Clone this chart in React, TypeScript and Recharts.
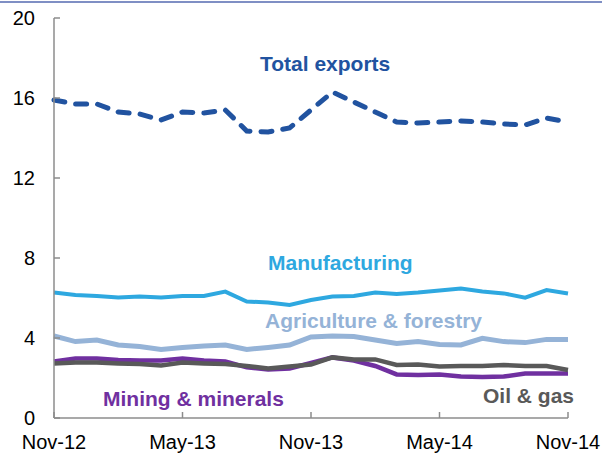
import { LineChart, Line, XAxis, YAxis } from "recharts";

const months = [
  "Nov-12", "Dec-12", "Jan-13", "Feb-13", "Mar-13", "Apr-13", "May-13", "Jun-13", "Jul-13",
  "Aug-13", "Sep-13", "Oct-13", "Nov-13", "Dec-13", "Jan-14", "Feb-14", "Mar-14", "Apr-14",
  "May-14", "Jun-14", "Jul-14", "Aug-14", "Sep-14", "Oct-14", "Nov-14",
];

const totalExports = [
  15.9, 15.7, 15.7, 15.3, 15.2, 14.9, 15.3, 15.25, 15.4, 14.35, 14.3, 14.5, 15.4,
  16.3, 15.8, 15.3, 14.8, 14.75, 14.8, 14.85, 14.8, 14.7, 14.65, 15.0, 14.8,
];
const manufacturing = [
  6.27, 6.15, 6.1, 6.02, 6.07, 6.02, 6.1, 6.1, 6.32, 5.82, 5.78, 5.65, 5.9,
  6.07, 6.1, 6.27, 6.2, 6.27, 6.37, 6.48, 6.32, 6.23, 6.02, 6.4, 6.23,
];
const agriculture = [
  4.1, 3.82, 3.9, 3.65, 3.57, 3.43, 3.53, 3.6, 3.65, 3.43, 3.53, 3.65, 4.05,
  4.1, 4.07, 3.9, 3.73, 3.82, 3.68, 3.65, 3.98, 3.82, 3.77, 3.93, 3.93,
];
const mining = [
  2.82, 2.98, 2.98, 2.9, 2.87, 2.87, 2.98, 2.87, 2.82, 2.53, 2.43, 2.48, 2.75,
  3.03, 2.87, 2.6, 2.18, 2.15, 2.18, 2.07, 2.05, 2.07, 2.23, 2.23, 2.23,
];
const oilGas = [
  2.72, 2.77, 2.77, 2.73, 2.7, 2.63, 2.77, 2.73, 2.7, 2.6, 2.48, 2.57, 2.67,
  3.03, 2.93, 2.93, 2.65, 2.68, 2.57, 2.6, 2.6, 2.65, 2.6, 2.6, 2.4,
];
const yTicks = [0, 4, 8, 12, 16, 20];

const data = months.map((m, i) => ({
  month: m,
  total: totalExports[i],
  manuf: manufacturing[i],
  agri: agriculture[i],
  mining: mining[i],
  oil: oilGas[i],
}));

const font = "'Liberation Sans', Arial, sans-serif";
const axisGrey = "#8c8c8c";

const labels = [
  { text: "Total exports", x: 260, y: 71, color: "#2153a0" },
  { text: "Manufacturing", x: 268, y: 270, color: "#2ea8e0" },
  { text: "Agriculture & forestry", x: 265, y: 328, color: "#95b3d7" },
  { text: "Mining & minerals", x: 103, y: 406, color: "#7030a0" },
  { text: "Oil & gas", x: 483, y: 403, color: "#595959" },
];

export default function App() {
  return (
    <div style={{ position: "absolute", left: 0, top: 0, width: 602, height: 458, background: "#fff", fontFamily: font }}>
      <LineChart width={602} height={458} data={data} margin={{ top: 18, right: 34, bottom: 0, left: 0 }}>
        <XAxis
          dataKey="month"
          interval={5}
          height={40}
          stroke={axisGrey}
          strokeWidth={1.5}
          tickSize={-6}
          tickMargin={23}
          tick={{ fill: "#000", fontSize: 20, fontFamily: font }}
        />
        <YAxis
          domain={[0, 20]}
          ticks={yTicks}
          width={54}
          stroke={axisGrey}
          strokeWidth={1.5}
          tickSize={-6}
          tickMargin={25}
          tick={{ fill: "#000", fontSize: 20, fontFamily: font }}
        />
        <Line dataKey="total" stroke="#2153a0" strokeWidth={5} strokeDasharray="11 11" strokeLinecap="round" dot={false} isAnimationActive={false} />
        <Line dataKey="manuf" stroke="#2ea8e0" strokeWidth={4} dot={false} isAnimationActive={false} />
        <Line dataKey="agri" stroke="#95b3d7" strokeWidth={5} dot={false} isAnimationActive={false} />
        <Line dataKey="mining" stroke="#7030a0" strokeWidth={4.5} dot={false} isAnimationActive={false} />
        <Line dataKey="oil" stroke="#595959" strokeWidth={4.5} dot={false} isAnimationActive={false} />
      </LineChart>
      <svg width={602} height={458} style={{ position: "absolute", left: 0, top: 0, pointerEvents: "none" }}>
        <rect x={0} y={1} width={602} height={2} fill="#7f8fc4" />
        {labels.map((l) => (
          <text key={l.text} x={l.x} y={l.y} fill={l.color} fontSize={21} fontWeight="bold" fontFamily={font}>
            {l.text}
          </text>
        ))}
      </svg>
    </div>
  );
}
